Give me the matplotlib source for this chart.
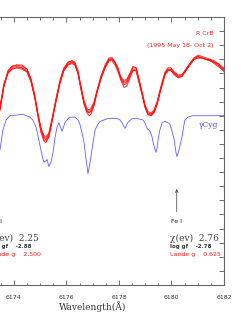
import numpy as np
import matplotlib
matplotlib.use("Agg")
import matplotlib.pyplot as plt
from matplotlib.ticker import MultipleLocator

# R CrB spectra (several epochs, 1995 May 18 - Oct 2)
red_wl = [6173.16, 6173.47, 6173.62, 6173.77, 6173.92, 6174.11, 6174.30, 6174.50,
          6174.65, 6174.80, 6174.91, 6175.03, 6175.14, 6175.22, 6175.33, 6175.45,
          6175.60, 6175.75, 6175.90, 6176.06, 6176.21, 6176.32, 6176.44, 6176.55,
          6176.67, 6176.78, 6176.86, 6176.93, 6177.05, 6177.16, 6177.31, 6177.47,
          6177.62, 6177.73, 6177.85, 6177.96, 6178.08, 6178.19, 6178.30, 6178.42,
          6178.53, 6178.65, 6178.76, 6178.88, 6178.99, 6179.10, 6179.22, 6179.33,
          6179.45, 6179.60, 6179.75, 6179.87, 6179.98, 6180.10, 6180.25, 6180.40,
          6180.55, 6180.70, 6180.86, 6181.01, 6181.16, 6181.31, 6181.47, 6181.62,
          6181.77, 6181.92, 6182.08]

red_1 = [1.03, 1.26, 1.42, 1.51, 1.54, 1.55, 1.54, 1.52,
         1.45, 1.33, 1.21, 1.10, 1.04, 1.03, 1.06, 1.17,
         1.31, 1.44, 1.53, 1.57, 1.58, 1.57, 1.51, 1.40,
         1.29, 1.23, 1.22, 1.23, 1.28, 1.37, 1.47, 1.55,
         1.60, 1.60, 1.57, 1.53, 1.46, 1.43, 1.44, 1.49,
         1.53, 1.53, 1.45, 1.36, 1.27, 1.22, 1.21, 1.23,
         1.29, 1.40, 1.50, 1.53, 1.53, 1.50, 1.48, 1.48,
         1.52, 1.56, 1.60, 1.62, 1.61, 1.60, 1.60, 1.58,
         1.57, 1.54, 1.52]
red_2 = [1.02, 1.25, 1.41, 1.52, 1.55, 1.56, 1.55, 1.53,
         1.46, 1.33, 1.20, 1.08, 1.02, 1.01, 1.05, 1.16,
         1.30, 1.43, 1.52, 1.56, 1.57, 1.56, 1.50, 1.39,
         1.28, 1.22, 1.20, 1.21, 1.27, 1.36, 1.46, 1.54,
         1.59, 1.60, 1.58, 1.53, 1.45, 1.40, 1.41, 1.47,
         1.52, 1.52, 1.44, 1.35, 1.26, 1.21, 1.20, 1.22,
         1.28, 1.39, 1.49, 1.52, 1.52, 1.49, 1.47, 1.48,
         1.52, 1.57, 1.61, 1.63, 1.62, 1.61, 1.60, 1.59,
         1.57, 1.55, 1.52]
red_3 = [1.04, 1.27, 1.43, 1.50, 1.53, 1.54, 1.53, 1.51,
         1.44, 1.32, 1.21, 1.11, 1.06, 1.05, 1.08, 1.18,
         1.32, 1.45, 1.54, 1.58, 1.59, 1.58, 1.52, 1.41,
         1.31, 1.25, 1.24, 1.25, 1.30, 1.38, 1.48, 1.56,
         1.61, 1.61, 1.58, 1.52, 1.47, 1.45, 1.46, 1.50,
         1.54, 1.54, 1.46, 1.37, 1.28, 1.23, 1.22, 1.24,
         1.30, 1.41, 1.51, 1.54, 1.54, 1.51, 1.49, 1.49,
         1.53, 1.57, 1.61, 1.62, 1.61, 1.60, 1.59, 1.58,
         1.56, 1.54, 1.51]
red_4 = [1.03, 1.25, 1.42, 1.51, 1.55, 1.56, 1.56, 1.53,
         1.46, 1.34, 1.22, 1.11, 1.05, 1.04, 1.07, 1.17,
         1.31, 1.44, 1.53, 1.58, 1.59, 1.57, 1.50, 1.39,
         1.29, 1.23, 1.22, 1.23, 1.28, 1.37, 1.47, 1.55,
         1.60, 1.61, 1.58, 1.54, 1.47, 1.44, 1.45, 1.50,
         1.55, 1.54, 1.46, 1.36, 1.27, 1.22, 1.21, 1.23,
         1.29, 1.40, 1.50, 1.53, 1.53, 1.51, 1.48, 1.49,
         1.53, 1.57, 1.60, 1.61, 1.61, 1.60, 1.59, 1.58,
         1.56, 1.53, 1.50]
red_5 = [1.02, 1.24, 1.41, 1.50, 1.53, 1.54, 1.54, 1.51,
         1.44, 1.32, 1.20, 1.09, 1.03, 1.02, 1.05, 1.16,
         1.30, 1.43, 1.52, 1.56, 1.58, 1.56, 1.50, 1.40,
         1.29, 1.24, 1.23, 1.24, 1.29, 1.37, 1.46, 1.54,
         1.59, 1.59, 1.56, 1.51, 1.45, 1.42, 1.43, 1.48,
         1.52, 1.52, 1.44, 1.35, 1.26, 1.21, 1.20, 1.22,
         1.28, 1.39, 1.49, 1.52, 1.52, 1.50, 1.47, 1.48,
         1.52, 1.56, 1.60, 1.61, 1.61, 1.60, 1.59, 1.57,
         1.55, 1.53, 1.50]
red_series = [red_1, red_2, red_3, red_4, red_5]

# gamma Cyg comparison spectrum (shifted down)
blue_wl = [6173.24, 6173.47, 6173.58, 6173.70, 6173.85, 6174.34, 6174.61, 6174.72,
           6174.84, 6174.91, 6174.99, 6175.07, 6175.14, 6175.22, 6175.26, 6175.33,
           6175.41, 6175.49, 6175.56, 6175.64, 6175.71, 6175.79, 6175.83, 6175.87,
           6175.94, 6176.06, 6176.13, 6176.32, 6176.44, 6176.51, 6176.59, 6176.67,
           6176.74, 6176.82, 6176.90, 6176.97, 6177.09, 6177.20, 6177.28, 6177.58,
           6177.92, 6178.04, 6178.11, 6178.23, 6178.33, 6178.50, 6178.69, 6178.91,
           6178.99, 6179.07, 6179.18, 6179.26, 6179.30, 6179.37, 6179.41, 6179.45,
           6179.49, 6179.56, 6179.64, 6179.75, 6179.87, 6179.94, 6180.02, 6180.10,
           6180.17, 6180.21, 6180.29, 6180.40, 6180.48, 6180.51, 6180.63, 6180.78,
           6182.00]
blue_flux = [0.82, 0.96, 1.10, 1.17, 1.20, 1.21, 1.19, 1.17,
             1.12, 1.06, 0.99, 0.92, 0.87, 0.88, 0.89, 0.84,
             0.87, 0.94, 1.04, 1.12, 1.15, 1.11, 1.09, 1.11,
             1.15, 1.18, 1.19, 1.19, 1.17, 1.14, 1.08, 1.01,
             0.90, 0.79, 0.87, 0.96, 1.10, 1.14, 1.16, 1.18,
             1.18, 1.17, 1.15, 1.11, 1.15, 1.18, 1.18, 1.17,
             1.15, 1.11, 1.09, 1.05, 1.01, 0.96, 0.94, 0.97,
             1.03, 1.10, 1.15, 1.16, 1.15, 1.14, 1.09, 1.03,
             0.94, 0.91, 0.96, 1.05, 1.14, 1.17, 1.19, 1.20,
             1.20]

lines = [6173.34, 6180.20]
chi_ev = ["2.25", "2.76"]
log_gf = ["-2.88", "-2.78"]
lande_g = ["2.500", "0.625"]
text_x = [6173.10, 6179.94]

fig = plt.figure(figsize=(2.41, 3.18), dpi=100)
ax = fig.add_axes([-0.16, 0.104, 1.0895, 0.8425])

for flux in red_series:
    ax.plot(red_wl, flux, color="#ff1010", lw=0.7, alpha=0.85)
ax.plot(blue_wl, blue_flux, color="#6060ff", lw=0.6)

ax.set_xlim(6172, 6182)
ax.set_ylim(0, 1.9)
ax.xaxis.set_major_locator(MultipleLocator(2))
ax.xaxis.set_minor_locator(MultipleLocator(0.5))
ax.yaxis.set_major_locator(MultipleLocator(0.1))
ax.set_yticklabels([])
ax.tick_params(which="both", direction="in", top=True, right=True,
               color="#555555", width=0.6)
ax.tick_params(which="major", length=3.5, labelsize=4.5, pad=7,
               labelcolor="#333333")
ax.tick_params(which="minor", length=1.8)
for s in ax.spines.values():
    s.set_color("#666666")
    s.set_linewidth(0.8)

ax.set_xlabel("Wavelength(Å)", family="DejaVu Serif", fontsize=6.5,
              color="#333333", labelpad=1)

ax.text(6181.28, 1.78, "R CrB", color="#ff2020", fontsize=4.5,
        ha="center", va="center")
ax.text(6180.32, 1.695, "(1995 May 18- Oct 2)", color="#ff2020", fontsize=4.5,
        ha="center", va="center")
ax.text(6181.05, 1.135, "γCyg", color="#5050ff", fontsize=5.5,
        family="DejaVu Serif", ha="left", va="center")

for i, wl in enumerate(lines):
    ax.annotate("", xy=(wl, 0.70), xytext=(wl, 0.50),
                arrowprops=dict(arrowstyle="->", color="#333333", lw=0.5,
                                mutation_scale=5))
    ax.text(wl, 0.447, "Fe I", fontsize=4.5, color="#222222",
            ha="center", va="center")
    ax.text(text_x[i], 0.333, "χ(ev)  " + chi_ev[i], fontsize=6.5,
            family="DejaVu Serif", color="#444444", ha="left", va="center")
    ax.text(text_x[i], 0.27, "log gf    " + log_gf[i], fontsize=4,
            weight="bold", color="#333333", ha="left", va="center")
    ax.text(text_x[i], 0.213, "Lande g    " + lande_g[i], fontsize=4.5,
            color="#ff2020", ha="left", va="center")

fig.savefig("out.png", dpi=100)
